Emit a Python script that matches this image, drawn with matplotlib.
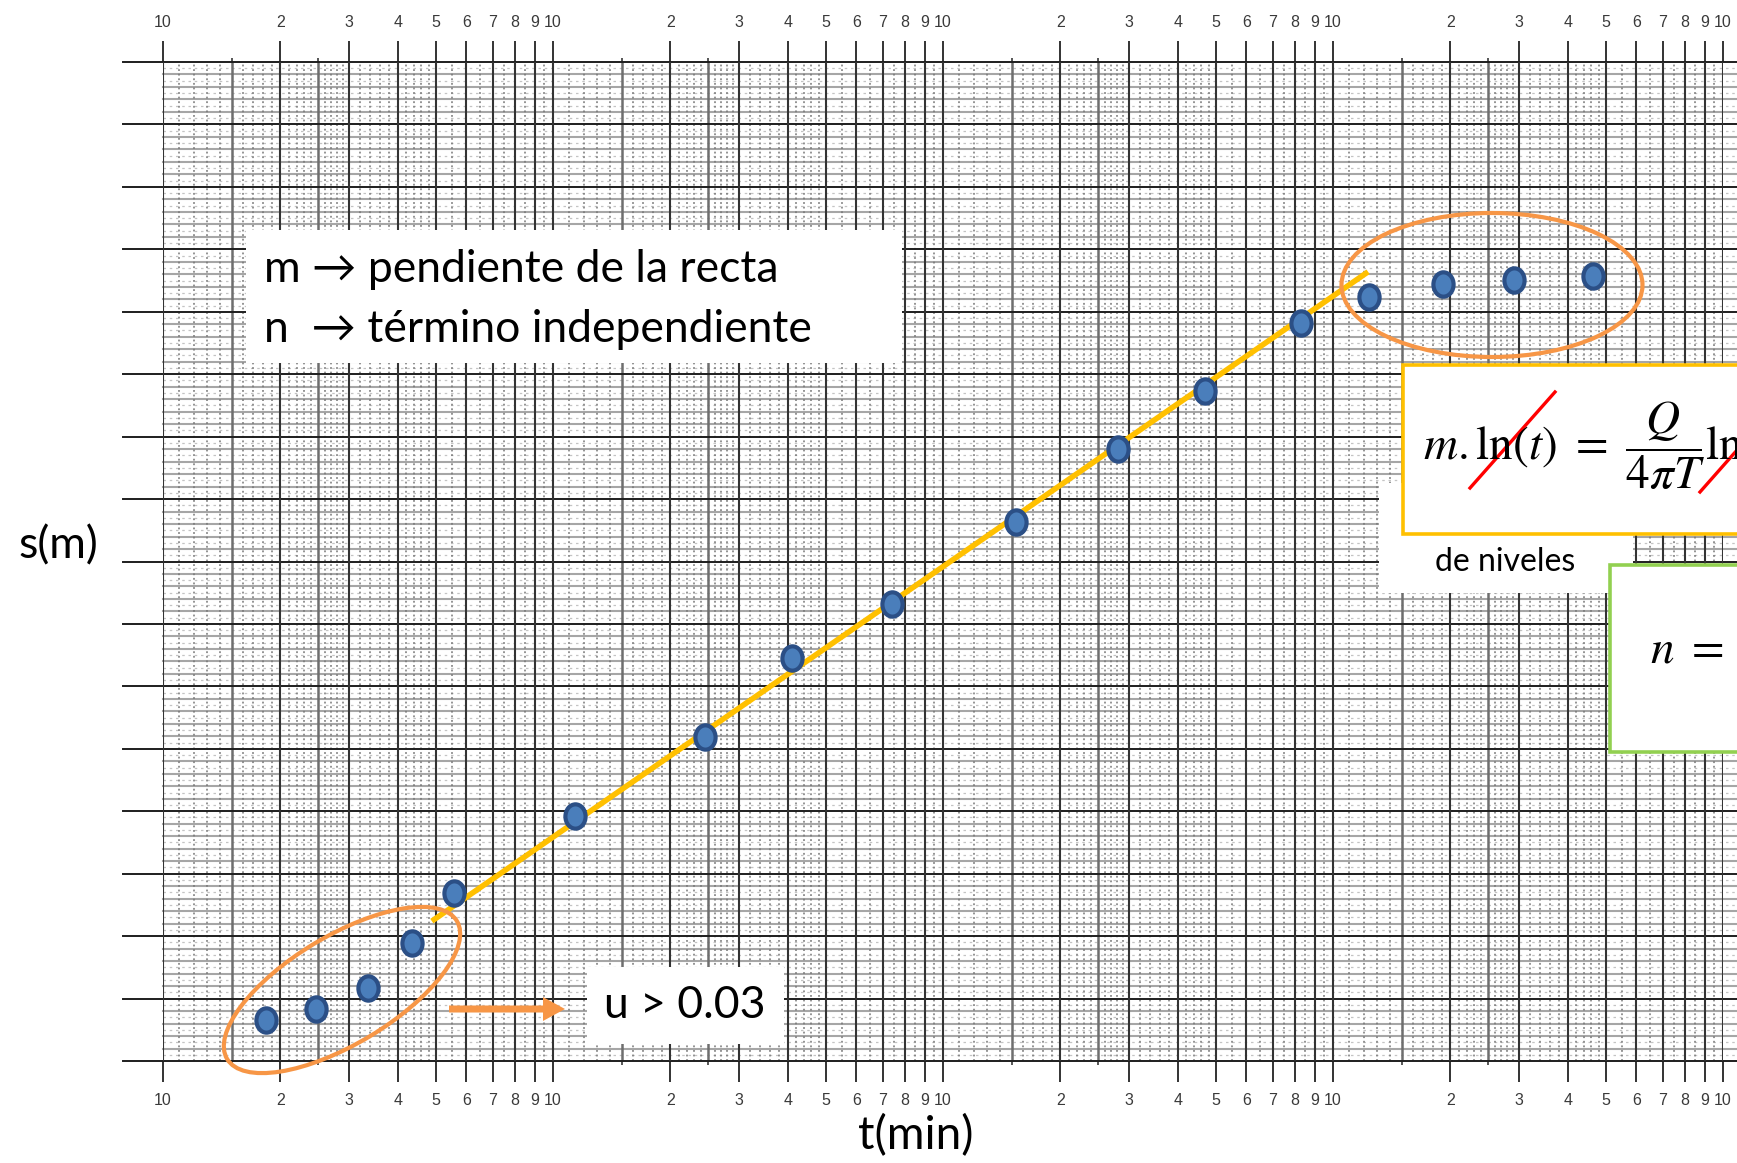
import numpy as np
import matplotlib
matplotlib.use('Agg')
import matplotlib.pyplot as plt
from matplotlib.patches import Rectangle, Ellipse, FancyArrow
from matplotlib.path import Path
from matplotlib.transforms import Affine2D
from matplotlib.ticker import FixedLocator, NullFormatter

plt.rcParams['mathtext.fontset'] = 'stix'

# drawdown test readings
t_min = [18.4, 24.7, 33.6, 43.5, 55.7, 114, 246, 410, 740, 1538,
         2810, 4700, 8280, 12360, 19140, 29100, 46450]
s_m = [0.66, 0.83, 1.17, 1.89, 2.69, 3.92, 5.19, 6.45, 7.32, 8.63,
       9.80, 10.73, 11.82, 12.24, 12.44, 12.51, 12.57]

# fitted straight (Jacob) segment
fit_t = [48.9, 12300]
fit_s = [2.24, 12.64]

decades = [10, 100, 1000, 10000]
mults = [1, 2, 3, 4, 5, 6, 7, 8, 9]
dotted_mults = [1.1, 1.2, 1.3, 1.4, 1.6, 1.7, 1.8, 1.9, 2.1, 2.2, 2.3, 2.4,
                2.6, 2.7, 2.8, 2.9, 3.2, 3.4, 3.6, 3.8, 4.2, 4.4, 4.6, 4.8,
                5.5, 6.5, 7.5, 8.5, 9.5]
half_mults = [1.5, 2.5]
n_rows = 16

W, H = 1737, 1163
fig = plt.figure(figsize=(W / 100, H / 100), dpi=100)
fig.patch.set_facecolor('white')

x0, x1, y0, y1 = 163, 1723, 62, 1061
ax = fig.add_axes([x0 / W, 1 - y1 / H, (x1 - x0) / W, (y1 - y0) / H])
ax.set_xscale('log')
ax.set_xlim(10, 1e5)
ax.set_ylim(0, n_rows)
for sp in ax.spines.values():
    sp.set_visible(False)
ax.set_yticks([])

ext_l = -(x0 - 123) / (x1 - x0)
ext_r = 1 + (W - x1) / (x1 - x0)

# semi-log paper: horizontal rulings
for k in range(n_rows * 10 + 1):
    y = k / 10
    if k % 10 == 0:
        ax.axhline(y, xmin=ext_l, xmax=ext_r, color='#1e1e1e', lw=1.4,
                   clip_on=False, zorder=3)
    elif k % 2 == 0:
        ax.axhline(y, xmin=0, xmax=ext_r, color='#a6a6a6', lw=1.5,
                   clip_on=False, zorder=1)
    else:
        ax.axhline(y, xmin=0, xmax=ext_r, color='#c4c4c4', lw=0.9,
                   ls=(0, (2, 3)), clip_on=False, zorder=1)

# vertical rulings per cycle
for d in decades:
    for m in dotted_mults:
        ax.axvline(d * m, color='#777777', lw=1.1, ls=(0, (1.2, 1.8)), zorder=1)
    for m in half_mults:
        ax.axvline(d * m, color='#6e6e6e', lw=1.8, zorder=2)
    for m in mults:
        ax.axvline(d * m, color='#333333', lw=1.5, zorder=3)
ax.axvline(1e5, color='#333333', lw=1.5, zorder=3)

# scale numbering on both edges
tick_pos = [d * m for d in decades for m in mults] + [1e5]
tick_lab = ['10' if m == 1 else str(m) for d in decades for m in mults] + ['10']
ax.xaxis.set_major_locator(FixedLocator(tick_pos))
ax.set_xticklabels(tick_lab)
ax.xaxis.set_minor_locator(FixedLocator([d * m for d in decades for m in half_mults]))
ax.xaxis.set_minor_formatter(NullFormatter())
ax.tick_params(axis='x', which='major', direction='out', length=15, width=1.4,
               color='#333333', top=True, bottom=True, labeltop=True,
               labelbottom=True, labelsize=11.5, labelcolor='#3a3a3a', pad=8)
ax.tick_params(axis='x', which='minor', direction='out', length=3, width=1.4,
               color='#555555', top=True, bottom=True)
for lab in ax.get_xticklabels():
    lab.set_fontfamily('Liberation Sans')

# straight-line fit and readings
ax.plot(fit_t, fit_s, color='#FFC000', lw=4, solid_capstyle='butt', zorder=5)
dot = Path.unit_circle().transformed(Affine2D().scale(0.83, 1.0))
ax.plot(t_min, s_m, ls='none', marker=dot, markersize=17.5,
        markerfacecolor='#4A7EBB', markeredgecolor='#2B4F86',
        markeredgewidth=3.0, zorder=6)

# annotation layer in pixel units
ov = fig.add_axes([0, 0, 1, 1], zorder=5)
ov.set_xlim(0, W)
ov.set_ylim(H, 0)
ov.axis('off')
ov.patch.set_alpha(0)

txt_font = ['Lato', 'DejaVu Sans']
orange = '#F79646'

ov.add_patch(Rectangle((246, 230), 656, 133, fc='white', ec='none'))
ov.text(264, 270, 'm \u2192 pendiente de la recta', fontsize=32,
        family=txt_font, va='center')
ov.text(264, 329, 'n  \u2192 término independiente', fontsize=32,
        family=txt_font, va='center')

ov.add_patch(Ellipse((342, 990), 268, 108, angle=-31, fc='none', ec=orange, lw=3.0))
ov.add_patch(Ellipse((1492, 285), 301, 144, fc='none', ec=orange, lw=3.0))
ov.add_patch(FancyArrow(449, 1009, 116, 0, width=7, head_width=24,
                        head_length=22, length_includes_head=True,
                        fc=orange, ec='none'))

ov.add_patch(Rectangle((587, 967), 197, 77, fc='white', ec='none'))
ov.text(685, 1006, 'u > 0.03', fontsize=32, family=txt_font,
        ha='center', va='center')

# equation panels on the right (the formula runs past the page edge)
ov.add_patch(Rectangle((1379, 483), 254, 110, fc='white', ec='none'))
ov.add_patch(Rectangle((1403, 365), 420, 169, fc='white', ec='#FFC000', lw=2.6))
ov.text(1423, 460, r'$m.\ln(t)\ =\ \dfrac{Q}{4\pi T}\ln$', fontsize=34,
        va='baseline')
ov.plot([1470, 1555], [488, 392], color='#FF0000', lw=2.4)
ov.plot([1700, 1768], [492, 415], color='#FF0000', lw=2.4)
ov.text(1505, 562, 'de niveles', fontsize=23, family=txt_font,
        ha='center', va='center')
ov.add_patch(Rectangle((1610, 565), 220, 187, fc='white', ec='#92D050', lw=2.6))
ov.text(1650, 650, r'$n\ =$', fontsize=34, va='center')

ov.text(58, 546, 's(m)', fontsize=32, family=txt_font, ha='center', va='center')
ov.text(916, 1136, 't(min)', fontsize=33, family=txt_font, ha='center', va='center')

fig.savefig('out.png', dpi=100, facecolor='white')
